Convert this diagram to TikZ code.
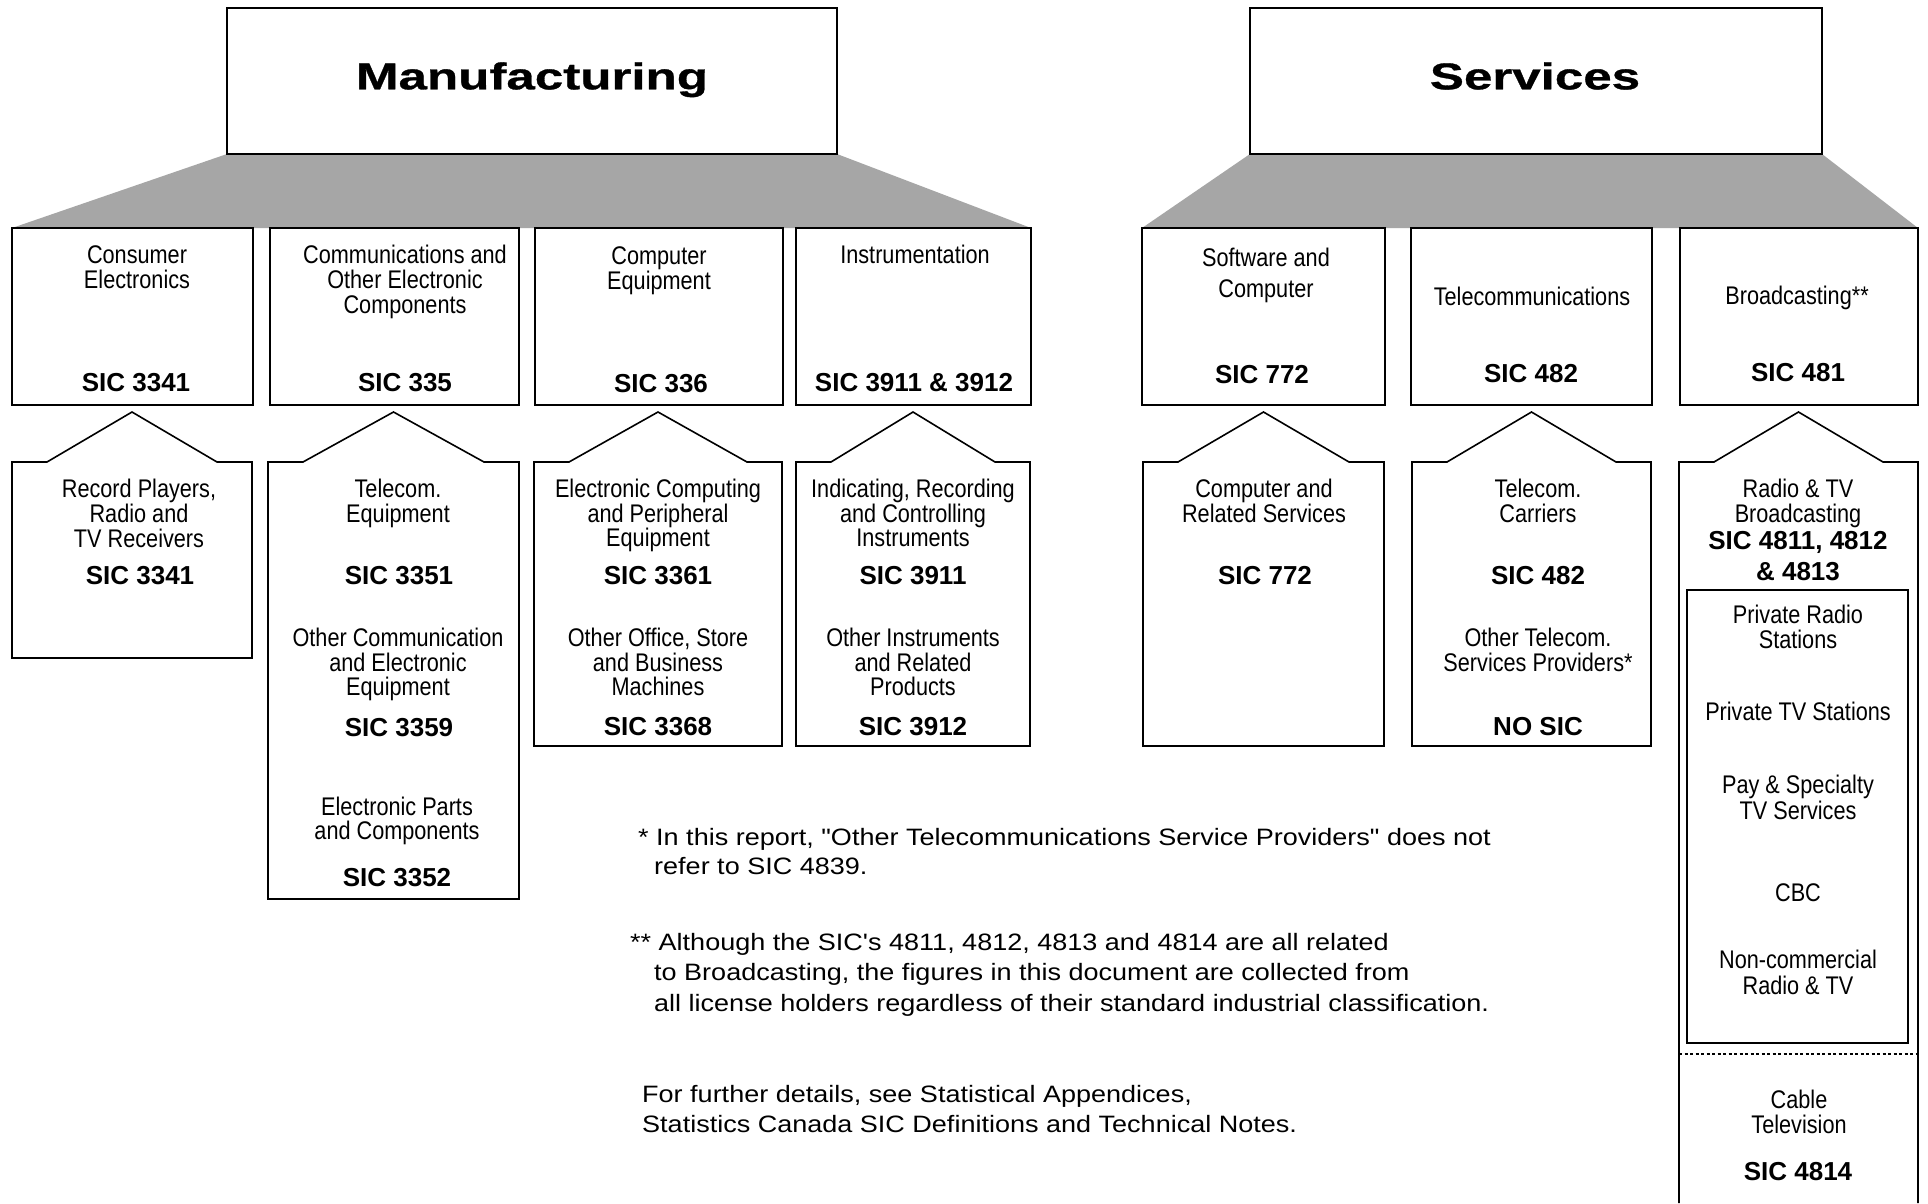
\documentclass[tikz,border=0pt]{standalone}
\usepackage{fontspec}
\usetikzlibrary{backgrounds}
\setmainfont{Liberation Sans}
\newfontfamily\titlefont[FakeStretch=1.37,FakeBold=0.8]{Liberation Sans}
\newfontfamily\boxfont[FakeStretch=0.85]{Liberation Sans}
\newfontfamily\notefont[FakeStretch=1.14]{Liberation Sans}
\newcounter{tn}
\newcommand\T[4][reg]{\stepcounter{tn}\node[#1] (t\arabic{tn}) at (#2,#3) {#4};}
\newcommand\Pent[4]{%
  \draw[pent] (#2,#4) coordinate (#1-sw) -- (#2,462) -- (#2+35,462)
    -- ({(#2+#3)/2},412) coordinate (#1-peak) -- (#3-35,462) -- (#3,462)
    -- (#3,#4) coordinate (#1-se) -- cycle;}
\begin{document}
\begin{tikzpicture}[x=1pt,y=-1pt,
  reg/.style={font=\boxfont\fontsize{25.5}{25.5}\selectfont, inner sep=0pt, anchor=base},
  sic/.style={font=\bfseries\fontsize{26}{26}\selectfont, inner sep=0pt, anchor=base},
  ttl/.style={font=\titlefont\bfseries\fontsize{37.3}{37.3}\selectfont, inner sep=0pt, anchor=base},
  note/.style={font=\notefont\fontsize{23.7}{23.7}\selectfont, inner sep=0pt, anchor=base west},
  box/.style={draw=black, line width=2pt, fill=white, inner sep=0pt, outer sep=0pt, minimum height=177pt},
  topbox/.style={draw=black, line width=2pt, fill=white, inner sep=0pt, outer sep=0pt, minimum height=146pt},
  pent/.style={draw=black, line width=1.6pt, fill=white, line join=miter},
  shade/.style={fill=black!35, draw=none}]
\useasboundingbox (0,0) rectangle (1928,1203);

% top boxes
\node[topbox, minimum width=610pt] (manuf) at (532,81) {};
\node[topbox, minimum width=572pt] (serv) at (1536,81) {};
\T[ttl]{532}{89.3}{Manufacturing}
\T[ttl]{1535}{89.3}{Services}

% level 2 boxes
\node[box, minimum width=241pt] (cons) at (132.5,316.5) {};
\node[box, minimum width=249pt] (comm) at (394.5,316.5) {};
\node[box, minimum width=248pt] (comp) at (659,316.5) {};
\node[box, minimum width=235pt] (instr) at (913.5,316.5) {};
\node[box, minimum width=243pt] (soft) at (1263.5,316.5) {};
\node[box, minimum width=241pt] (tele) at (1531.5,316.5) {};
\node[box, minimum width=238pt] (broad) at (1799,316.5) {};

\begin{scope}[on background layer]
  \fill[white] (0,0) rectangle (1928,1203);
  \fill[shade] (manuf.south west) -- (manuf.south east) -- (instr.north east) -- (cons.north west) -- cycle;
  \fill[shade] (serv.south west) -- (serv.south east) -- (broad.north east) -- (soft.north west) -- cycle;
\end{scope}

\T{137}{263}{Consumer}
\T{137}{288.5}{Electronics}
\T[sic]{136}{391.7}{SIC 3341}
\T{405}{263}{Communications and}
\T{405}{288.5}{Other Electronic}
\T{405}{313.5}{Components}
\T[sic]{405}{391.7}{SIC 335}
\T{659}{264}{Computer}
\T{659}{289.5}{Equipment}
\T[sic]{661}{392.5}{SIC 336}
\T{915}{263}{Instrumentation}
\T[sic]{914}{391.7}{SIC 3911 \& 3912}
\T{1266}{266.7}{Software and}
\T{1266}{297.7}{Computer}
\T[sic]{1262}{383.3}{SIC 772}
\T{1532}{305}{Telecommunications}
\T[sic]{1531}{382.7}{SIC 482}
\T{1797}{304}{Broadcasting**}
\T[sic]{1798}{381.7}{SIC 481}

% level 3 pentagons
\Pent{rec}{12}{252}{658}
\Pent{teq}{268}{519}{899}
\Pent{ecp}{534}{782}{746}
\Pent{ind}{796}{1030}{746}
\Pent{crs}{1143}{1384}{746}
\Pent{tcc}{1412}{1651}{746}
\draw[pent] (1679,1203) coordinate (rtv-sw) -- (1679,462) -- (1714,462) -- (1798.5,412) coordinate (rtv-peak)
  -- (1883,462) -- (1918,462) -- (1918,1203) coordinate (rtv-se);
\node[draw=black, line width=1.6pt, fill=white, inner sep=0pt, outer sep=0pt,
  minimum width=221pt, minimum height=453pt] (inner) at (1797.5,816.5) {};
\draw[dash pattern=on 3pt off 2.5pt, line width=1.3pt] (rtv-sw |- 0,1054) coordinate (dl) -- (rtv-se |- 0,1054) coordinate (dr);

\T{139}{497.7}{Record Players,}
\T{139}{522.3}{Radio and}
\T{139}{547}{TV Receivers}
\T[sic]{140}{584}{SIC 3341}

\T{398}{497.7}{Telecom.}
\T{398}{522.3}{Equipment}
\T[sic]{399}{584}{SIC 3351}
\T{398}{646.7}{Other Communication}
\T{398}{671.5}{and Electronic}
\T{398}{695.7}{Equipment}
\T[sic]{399}{736.7}{SIC 3359}
\T{397}{815}{Electronic Parts}
\T{397}{839.5}{and Components}
\T[sic]{397}{886.7}{SIC 3352}

\T{658}{497.7}{Electronic Computing}
\T{658}{522.3}{and Peripheral}
\T{658}{546.7}{Equipment}
\T[sic]{658}{584}{SIC 3361}
\T{658}{646.7}{Other Office, Store}
\T{658}{671}{and Business}
\T{658}{695.7}{Machines}
\T[sic]{658}{735.5}{SIC 3368}

\T{913}{497.7}{Indicating, Recording}
\T{913}{522.3}{and Controlling}
\T{913}{546.7}{Instruments}
\T[sic]{913}{584}{SIC 3911}
\T{913}{646.7}{Other Instruments}
\T{913}{671}{and Related}
\T{913}{695.7}{Products}
\T[sic]{913}{735.5}{SIC 3912}

\T{1264}{497.7}{Computer and}
\T{1264}{522.3}{Related Services}
\T[sic]{1265}{584}{SIC 772}

\T{1538}{497.7}{Telecom.}
\T{1538}{522.3}{Carriers}
\T[sic]{1538}{584}{SIC 482}
\T{1538}{646.7}{Other Telecom.}
\T{1538}{671}{Services Providers*}
\T[sic]{1538}{735.5}{NO SIC}

\T{1798}{497.7}{Radio \& TV}
\T{1798}{522.3}{Broadcasting}
\T[sic]{1798}{549}{SIC 4811, 4812}
\T[sic]{1798}{580}{\& 4813}
\T{1798}{623}{Private Radio}
\T{1798}{648}{Stations}
\T{1798}{720}{Private TV Stations}
\T{1798}{793.5}{Pay \& Specialty}
\T{1798}{819}{TV Services}
\T{1798}{901.7}{CBC}
\T{1798}{968}{Non-commercial}
\T{1798}{994}{Radio \& TV}
\T{1799}{1108}{Cable}
\T{1799}{1133}{Television}
\T[sic]{1798}{1180.7}{SIC 4814}

% footnotes
\T[note]{638}{845}{* In this report, "Other Telecommunications Service Providers" does not}
\T[note]{654}{874}{refer to SIC 4839.}
\T[note]{630}{950}{** Although the SIC's 4811, 4812, 4813 and 4814 are all related}
\T[note]{654}{980.5}{to Broadcasting, the figures in this document are collected from}
\T[note]{654}{1011}{all license holders regardless of their standard industrial classification.}
\T[note]{642}{1102}{For further details, see Statistical Appendices,}
\T[note]{642}{1132.5}{Statistics Canada SIC Definitions and Technical Notes.}
\end{tikzpicture}
\end{document}
